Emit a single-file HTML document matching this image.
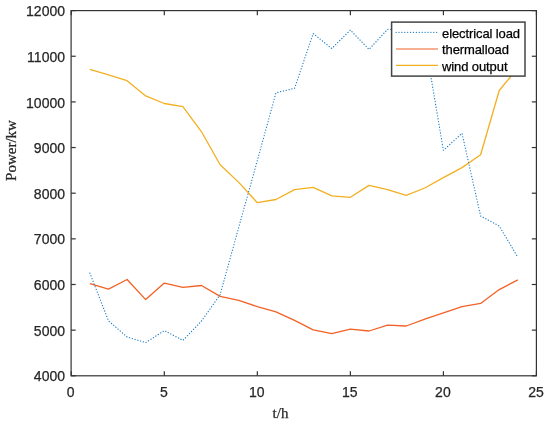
<!DOCTYPE html>
<html><head><meta charset="utf-8"><style>
html,body{margin:0;padding:0;background:#fff;}
svg{display:block;filter:blur(0.3px);}
text{filter:grayscale(1);stroke:currentColor;stroke-width:0.25px;}
text{font-family:"Liberation Sans",sans-serif;}
</style></head><body>
<svg width="550" height="426" viewBox="0 0 550 426">
<rect x="0" y="0" width="550" height="426" fill="#fff"/>
<g fill="none" stroke-linejoin="round">
<polyline points="89.88,283.60 108.48,289.10 127.09,279.50 145.70,299.60 164.31,283.10 182.91,287.30 201.52,285.50 220.13,296.40 238.73,300.40 257.34,306.60 275.95,311.80 294.55,320.40 313.16,329.80 331.77,333.60 350.38,329.20 368.98,331.00 387.59,325.20 406.20,326.00 424.80,319.20 443.41,312.90 462.02,306.60 480.62,303.40 499.23,289.60 517.84,279.80" stroke="#F26226" stroke-width="1.3"/>
<polyline points="89.88,69.45 108.48,74.80 127.09,80.65 145.70,95.90 164.31,103.50 182.91,106.60 201.52,131.80 220.13,164.80 238.73,182.40 257.34,202.70 275.95,199.50 294.55,189.60 313.16,187.40 331.77,195.80 350.38,197.30 368.98,185.40 387.59,189.60 406.20,195.30 424.80,188.00 443.41,177.60 462.02,167.60 480.62,154.80 499.23,90.50 517.84,68.00" stroke="#F2B020" stroke-width="1.3"/>
<polyline points="89.88,273.10 108.48,320.80 127.09,337.00 145.70,342.60 164.31,330.60 182.91,340.40 201.52,321.00 220.13,294.70 238.73,227.30 257.34,160.50 275.95,92.80 294.55,88.30 313.16,33.50 331.77,48.50 350.38,30.00 368.98,49.40 387.59,29.30 406.20,30.00 424.80,40.70 443.41,150.30 462.02,133.30 480.62,216.00 499.23,226.00 517.84,257.20" stroke="#1f7fc6" stroke-width="1.2" stroke-dasharray="0.2 2.7" stroke-linecap="round"/>
</g>
<g stroke="#333" stroke-width="1.2" fill="none">
<rect x="71.1" y="10.6" width="465.29999999999995" height="365.2"/>
<line x1="71.27" y1="375.8" x2="71.27" y2="371.2"/><line x1="71.27" y1="10.6" x2="71.27" y2="15.2"/><line x1="164.31" y1="375.8" x2="164.31" y2="371.2"/><line x1="164.31" y1="10.6" x2="164.31" y2="15.2"/><line x1="257.34" y1="375.8" x2="257.34" y2="371.2"/><line x1="257.34" y1="10.6" x2="257.34" y2="15.2"/><line x1="350.38" y1="375.8" x2="350.38" y2="371.2"/><line x1="350.38" y1="10.6" x2="350.38" y2="15.2"/><line x1="443.41" y1="375.8" x2="443.41" y2="371.2"/><line x1="443.41" y1="10.6" x2="443.41" y2="15.2"/><line x1="536.44" y1="375.8" x2="536.44" y2="371.2"/><line x1="536.44" y1="10.6" x2="536.44" y2="15.2"/><line x1="71.1" y1="375.80" x2="75.69999999999999" y2="375.80"/><line x1="536.4" y1="375.80" x2="531.8" y2="375.80"/><line x1="71.1" y1="330.15" x2="75.69999999999999" y2="330.15"/><line x1="536.4" y1="330.15" x2="531.8" y2="330.15"/><line x1="71.1" y1="284.50" x2="75.69999999999999" y2="284.50"/><line x1="536.4" y1="284.50" x2="531.8" y2="284.50"/><line x1="71.1" y1="238.85" x2="75.69999999999999" y2="238.85"/><line x1="536.4" y1="238.85" x2="531.8" y2="238.85"/><line x1="71.1" y1="193.20" x2="75.69999999999999" y2="193.20"/><line x1="536.4" y1="193.20" x2="531.8" y2="193.20"/><line x1="71.1" y1="147.55" x2="75.69999999999999" y2="147.55"/><line x1="536.4" y1="147.55" x2="531.8" y2="147.55"/><line x1="71.1" y1="101.90" x2="75.69999999999999" y2="101.90"/><line x1="536.4" y1="101.90" x2="531.8" y2="101.90"/><line x1="71.1" y1="56.25" x2="75.69999999999999" y2="56.25"/><line x1="536.4" y1="56.25" x2="531.8" y2="56.25"/><line x1="71.1" y1="10.60" x2="75.69999999999999" y2="10.60"/><line x1="536.4" y1="10.60" x2="531.8" y2="10.60"/>
</g>
<g fill="#262626" color="#262626" font-size="14">
<text x="70.77" y="397.2" text-anchor="middle">0</text><text x="163.81" y="397.2" text-anchor="middle">5</text><text x="256.84" y="397.2" text-anchor="middle">10</text><text x="349.88" y="397.2" text-anchor="middle">15</text><text x="442.91" y="397.2" text-anchor="middle">20</text><text x="535.94" y="397.2" text-anchor="middle">25</text><text x="65" y="381.40" text-anchor="end">4000</text><text x="65" y="335.75" text-anchor="end">5000</text><text x="65" y="290.10" text-anchor="end">6000</text><text x="65" y="244.45" text-anchor="end">7000</text><text x="65" y="198.80" text-anchor="end">8000</text><text x="65" y="153.15" text-anchor="end">9000</text><text x="65" y="107.50" text-anchor="end">10000</text><text x="65" y="61.85" text-anchor="end">11000</text><text x="65" y="16.20" text-anchor="end">12000</text>
</g>
<text x="280.5" y="418" text-anchor="middle" font-family="Liberation Serif" font-size="15" fill="#262626" color="#262626" style="font-family:'Liberation Serif',serif">t/h</text>
<text transform="translate(15.5,150.5) rotate(-90)" text-anchor="middle" font-size="15" fill="#262626" color="#262626" style="font-family:'Liberation Serif',serif">Power/kw</text>
<g>
<rect x="391.6" y="22.1" width="133.4" height="54" fill="#fff" stroke="#444" stroke-width="1.5"/>
<line x1="396" y1="32.3" x2="438" y2="32.3" stroke="#1f7fc6" stroke-width="1.2" stroke-dasharray="0.2 2.7" stroke-linecap="round"/>
<line x1="396" y1="49" x2="438" y2="49" stroke="#F26226" stroke-width="1.1"/>
<line x1="396" y1="65.4" x2="438" y2="65.4" stroke="#F2B020" stroke-width="1.2"/>
<g fill="#000" color="#000" font-size="13" letter-spacing="-0.1">
<text x="442" y="37.6">electrical load</text>
<text x="442" y="54.4">thermalload</text>
<text x="442" y="70.9">wind output</text>
</g>
</g>
</svg>
</body></html>
